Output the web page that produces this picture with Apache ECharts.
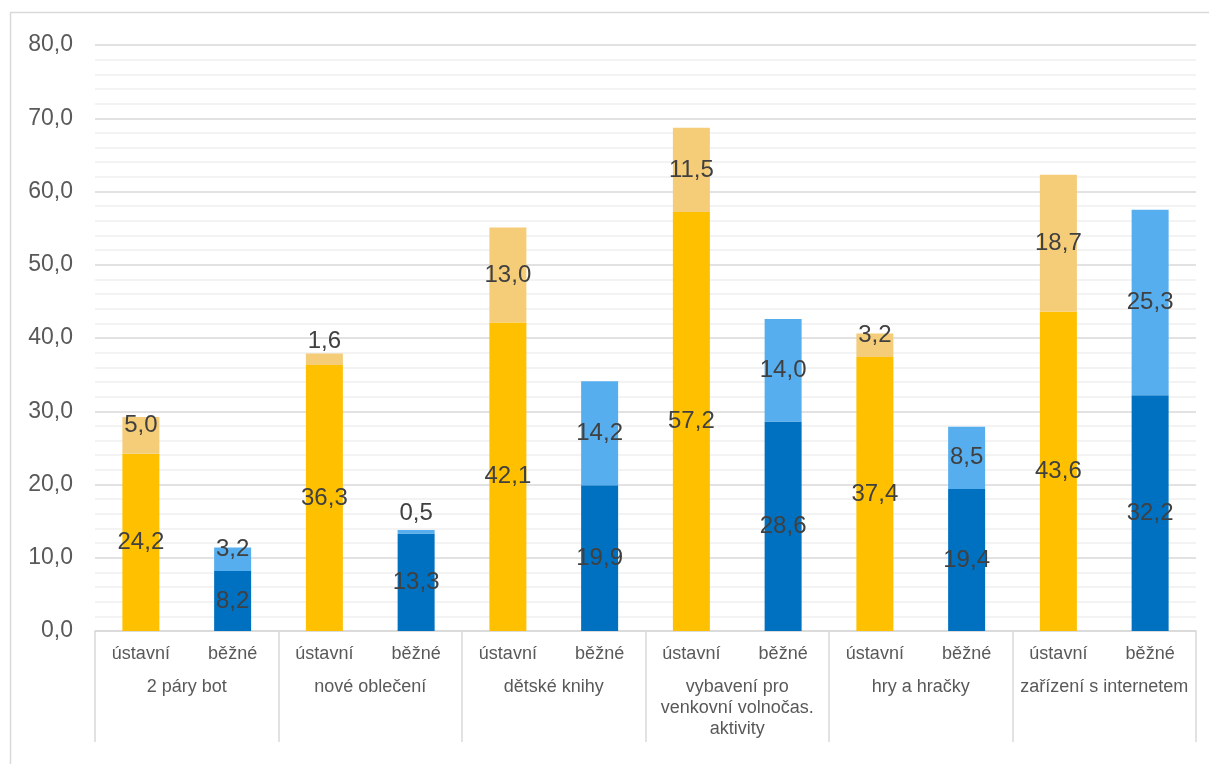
<!DOCTYPE html>
<html><head><meta charset="utf-8">
<script src="https://cdn.jsdelivr.net/npm/echarts@6/dist/echarts.min.js"></script>
<style>html,body{margin:0;padding:0;background:#fff}#c{width:1209px;height:764px}</style>
</head><body><div id="c"></div>
<script>
const groups = ['2 páry bot', 'nové oblečení', 'dětské knihy', 'vybavení pro\nvenkovní volnočas.\naktivity', 'hry a hračky', 'zařízení s internetem'];
const subs = ['ústavní', 'běžné'];
const ustavniBase = [24.2, 36.3, 42.1, 57.2, 37.4, 43.6];
const ustavniExtra = [5.0, 1.6, 13.0, 11.5, 3.2, 18.7];
const bezneBase = [8.2, 13.3, 19.9, 28.6, 19.4, 32.2];
const bezneExtra = [3.2, 0.5, 14.2, 14.0, 8.5, 25.3];
const yTicks = [0, 10, 20, 30, 40, 50, 60, 70, 80];

const FONT = 'Liberation Sans, Arial, sans-serif';
const cats = [];
groups.forEach(() => subs.forEach(s => cats.push(s)));

function expand(arr, slot) {
  const out = [];
  arr.forEach(v => { out.push(slot === 0 ? v : null); out.push(slot === 1 ? v : null); });
  return out;
}
function fmt(v) { return v.toFixed(1).replace('.', ','); }
function items(arr, slot, top) {
  return expand(arr, slot).map(v => {
    if (v === null) return null;
    const o = { value: v };
    if (top) {
      const off = v < 2 ? -18 : (v < 6 ? -10 : 0);
      o.label = { offset: [0, off] };
    }
    return o;
  });
}
const lbl = { show: true, position: 'inside', color: '#404040', fontSize: 24, fontFamily: FONT, formatter: p => fmt(p.value) };

const chart = echarts.init(document.getElementById('c'), null, { renderer: 'canvas' });
chart.setOption({
  animation: false,
  backgroundColor: '#fff',
  textStyle: { fontFamily: FONT },
  graphic: [{ type: 'rect', shape: { x: 10.5, y: 12.5, width: 1400, height: 1000 }, style: { fill: 'none', stroke: '#d9d9d9', lineWidth: 1.5 }, silent: true }],
  grid: { left: 95, right: 13, top: 45, bottom: 133 },
  xAxis: [
    { type: 'category', data: cats, position: 'bottom',
      axisLine: { lineStyle: { color: '#d9d9d9', width: 1.5 } },
      axisTick: { show: false },
      axisLabel: { color: '#595959', fontSize: 18, fontFamily: FONT, margin: 14, interval: 0 } },
    { type: 'category', data: groups, position: 'bottom',
      axisLine: { show: false },
      axisTick: { show: true, length: 111, lineStyle: { color: '#d9d9d9', width: 1.5 } },
      axisLabel: { color: '#595959', fontSize: 18, fontFamily: FONT, margin: 46, interval: 0, lineHeight: 21 } }
  ],
  yAxis: {
    type: 'value', min: yTicks[0], max: yTicks[yTicks.length - 1], interval: 10,
    axisLine: { show: false }, axisTick: { show: false },
    axisLabel: { color: '#595959', fontSize: 23, fontFamily: FONT, margin: 22, formatter: v => fmt(v) },
    splitLine: { lineStyle: { color: '#d9d9d9', width: 1.5 } },
    minorTick: { show: false, splitNumber: 5 },
    minorSplitLine: { show: true, lineStyle: { color: '#efefef', width: 1.5 } }
  },
  series: [
    { name: 'ústavní', type: 'bar', stack: 's', barWidth: 37, itemStyle: { color: '#FFC000' }, label: lbl, data: items(ustavniBase, 0, false) },
    { name: 'ústavní+', type: 'bar', stack: 's', barWidth: 37, itemStyle: { color: '#F5CC78' }, label: lbl, data: items(ustavniExtra, 0, true) },
    { name: 'běžné', type: 'bar', stack: 's', barWidth: 37, itemStyle: { color: '#0070C0' }, label: lbl, data: items(bezneBase, 1, false) },
    { name: 'běžné+', type: 'bar', stack: 's', barWidth: 37, itemStyle: { color: '#56AEEF' }, label: lbl, data: items(bezneExtra, 1, true) }
  ]
});
</script></body></html>
